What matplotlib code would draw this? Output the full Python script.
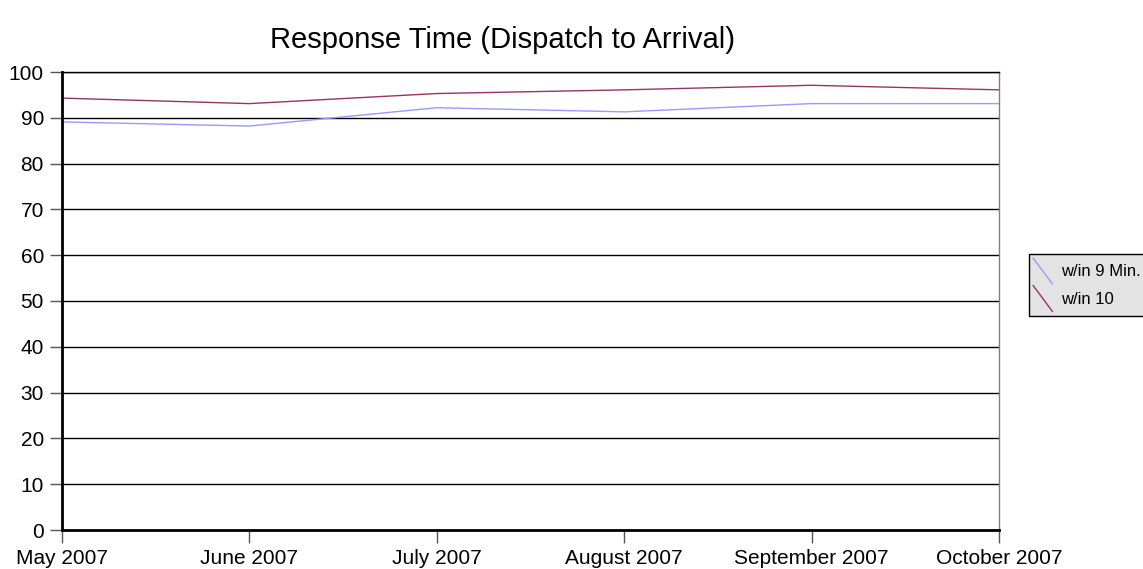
import matplotlib
matplotlib.use('Agg')
import matplotlib.pyplot as plt
from matplotlib.lines import Line2D
from matplotlib.legend_handler import HandlerBase

plt.rcParams['font.family'] = ['Liberation Sans', 'DejaVu Sans']

# monthly percentages
months = ['May 2007', 'June 2007', 'July 2007', 'August 2007', 'September 2007', 'October 2007']
win9 = [89.1, 88.2, 92.2, 91.3, 93.1, 93.1]
win10 = [94.3, 93.1, 95.3, 96.1, 97.1, 96.1]
series_names = ['w/in 9 Min.', 'w/in 10']
series_colors = ['#9999ff', '#993366']


class DiagonalHandler(HandlerBase):
    # legend key drawn as a short slanted line
    def create_artists(self, legend, orig_handle, xdescent, ydescent,
                       width, height, fontsize, trans):
        line = Line2D([-xdescent, -xdescent + width],
                      [-ydescent + height, -ydescent],
                      color=orig_handle.get_color(),
                      lw=orig_handle.get_linewidth())
        line.set_transform(trans)
        return [line]


fig = plt.figure(figsize=(11.43, 5.69), dpi=100)
ax = fig.add_axes([62 / 1143, 1 - 530 / 569, (999 - 62) / 1143, (530 - 72) / 569])

x = list(range(len(months)))
l1, = ax.plot(x, win9, color=series_colors[0], lw=1.0, label=series_names[0])
l2, = ax.plot(x, win10, color=series_colors[1], lw=1.0, label=series_names[1])

ax.set_xlim(0, len(months) - 1)
ax.set_ylim(0, 100)
ax.set_yticks(range(0, 101, 10))
ax.set_xticks(x)
ax.set_xticklabels(months)

ax.yaxis.grid(True, color='black', lw=1.0)
ax.set_axisbelow(True)

for side in ['left', 'bottom']:
    ax.spines[side].set_linewidth(2.0)
    ax.spines[side].set_color('black')
ax.spines['top'].set_linewidth(1.0)
ax.spines['top'].set_color('black')
ax.spines['right'].set_linewidth(1.0)
ax.spines['right'].set_color('#808080')

ax.tick_params(axis='y', direction='out', length=9, width=1, color='#555555',
               pad=4, labelsize=15)
ax.tick_params(axis='x', direction='out', length=9, width=1, color='#555555',
               pad=5, labelsize=15)

fig.text(502 / 1143, 1 - 48 / 569, 'Response Time (Dispatch to Arrival)',
         ha='center', va='baseline', fontsize=21)

leg = ax.legend(handles=[l1, l2], handler_map={Line2D: DiagonalHandler()},
                loc='upper left', bbox_to_anchor=(1029 / 1143, 1 - 254 / 569),
                bbox_transform=fig.transFigure, borderaxespad=0,
                fontsize=12, frameon=True, fancybox=False,
                handlelength=1.15, handleheight=2.0, handletextpad=0.5,
                labelspacing=0.1, borderpad=0.25)
frame = leg.get_frame()
frame.set_facecolor('#e3e3e3')
frame.set_edgecolor('black')
frame.set_linewidth(1.0)
frame.set_alpha(1)

fig.savefig('out.png', dpi=100)
